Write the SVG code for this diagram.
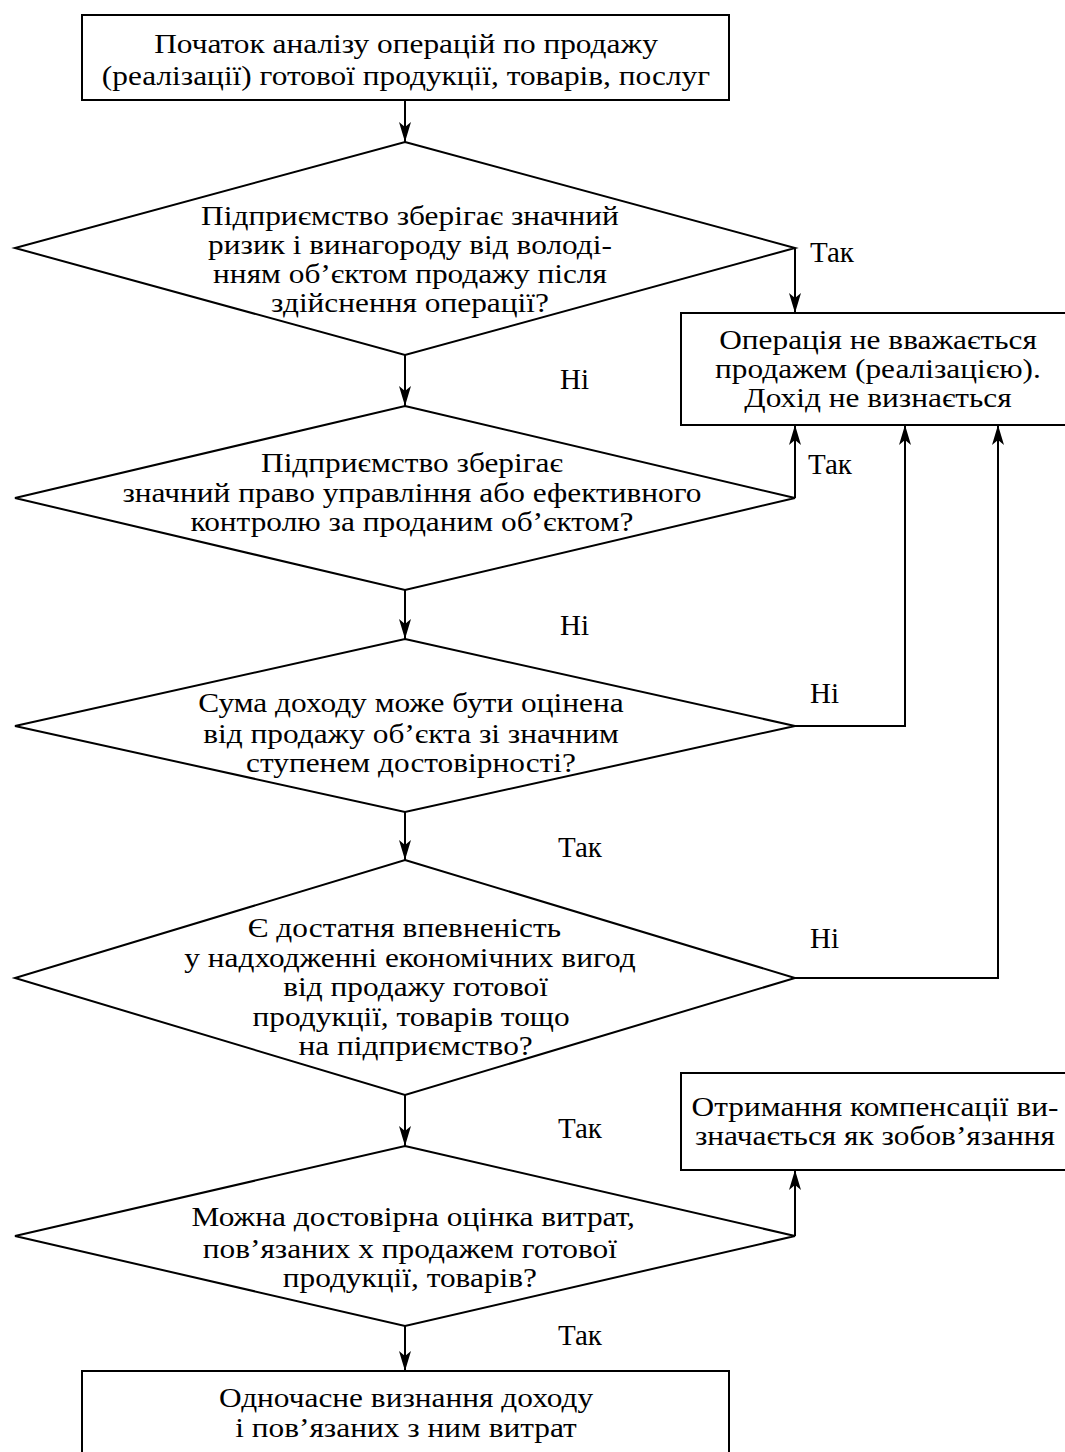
<svg xmlns="http://www.w3.org/2000/svg" width="1065" height="1452" viewBox="0 0 1065 1452">
<style>
.shape{fill:#fff;stroke:#000;stroke-width:2}
.conn{fill:none;stroke:#000;stroke-width:2}
text{font-family:"Liberation Serif","Times New Roman",serif;font-size:28px;fill:#000}
.lbl{font-size:29px}
.c{text-anchor:middle}
</style>
<defs>
<marker id="ah" markerUnits="userSpaceOnUse" viewBox="0 0 20 12" refX="20" refY="6" markerWidth="20" markerHeight="12" orient="auto">
<path d="M0,0 L20,6 L0,12 L5,6 Z" fill="#000"/>
</marker>
</defs>
<rect width="1065" height="1452" fill="#fff"/>

<g id="connectors">
<path class="conn" d="M405,100 V142" marker-end="url(#ah)"/>
<path class="conn" d="M795,248 V313" marker-end="url(#ah)"/>
<path class="conn" d="M405,355 V406" marker-end="url(#ah)"/>
<path class="conn" d="M795,498 V425" marker-end="url(#ah)"/>
<path class="conn" d="M405,590 V639" marker-end="url(#ah)"/>
<path class="conn" d="M795,726 H905 V425" marker-end="url(#ah)"/>
<path class="conn" d="M405,812 V860" marker-end="url(#ah)"/>
<path class="conn" d="M795,978 H998 V425" marker-end="url(#ah)"/>
<path class="conn" d="M405,1095 V1146" marker-end="url(#ah)"/>
<path class="conn" d="M795,1236 V1170" marker-end="url(#ah)"/>
<path class="conn" d="M405,1326 V1371" marker-end="url(#ah)"/>
<text class="lbl" x="810" y="262">Так</text>
<text class="lbl" x="560" y="389">Ні</text>
<text class="lbl" x="808" y="474">Так</text>
<text class="lbl" x="560" y="635">Ні</text>
<text class="lbl" x="810" y="703">Ні</text>
<text class="lbl" x="558" y="857">Так</text>
<text class="lbl" x="810" y="948">Ні</text>
<text class="lbl" x="558" y="1138">Так</text>
<text class="lbl" x="558" y="1345">Так</text>
</g>

<g id="start">
<rect class="shape" x="82" y="15" width="647" height="85"/>
<g transform="matrix(1.12 0 0 1 -48.72 0)">
<text class="c" x="406" y="53">Початок аналізу операцій по продажу</text>
<text class="c" x="406" y="85">(реалізації) готової продукції, товарів, послуг</text>
</g>
</g>

<g id="d1">
<polygon class="shape" points="405,142 795,248 405,355 15,248"/>
<g transform="matrix(1.12 0 0 1 -49.2 0)">
<text class="c" x="410" y="225">Підприємство зберігає значний</text>
<text class="c" x="410" y="254">ризик і винагороду від володі-</text>
<text class="c" x="410" y="283">нням об’єктом продажу після</text>
<text class="c" x="410" y="312">здійснення операції?</text>
</g>
</g>

<g id="notsale">
<rect class="shape" x="681" y="313" width="400" height="112"/>
<g transform="matrix(1.12 0 0 1 -105.36 0)">
<text class="c" x="878" y="349">Операція не вважається</text>
<text class="c" x="878" y="378">продажем (реалізацією).</text>
<text class="c" x="878" y="407">Дохід не визнається</text>
</g>
</g>

<g id="d2">
<polygon class="shape" points="405,406 795,498 405,590 15,498"/>
<g transform="matrix(1.12 0 0 1 -49.44 0)">
<text class="c" x="412" y="472">Підприємство зберігає</text>
<text class="c" x="412" y="502">значний право управління або ефективного</text>
<text class="c" x="412" y="531">контролю за проданим об’єктом?</text>
</g>
</g>

<g id="d3">
<polygon class="shape" points="405,639 795,726 405,812 15,726"/>
<g transform="matrix(1.12 0 0 1 -49.32 0)">
<text class="c" x="411" y="712">Сума доходу може бути оцінена</text>
<text class="c" x="411" y="743">від продажу об’єкта зі значним</text>
<text class="c" x="411" y="772">ступенем достовірності?</text>
</g>
</g>

<g id="d4">
<polygon class="shape" points="405,860 795,978 405,1095 15,978"/>
<g transform="matrix(1.12 0 0 1 -49.2 0)">
<text class="c" x="405" y="937">Є достатня впевненість</text>
<text class="c" x="410" y="967">у надходженні економічних вигод</text>
<text class="c" x="415" y="996">від продажу готової</text>
<text class="c" x="411" y="1026">продукції, товарів тощо</text>
<text class="c" x="415" y="1055">на підприємство?</text>
</g>
</g>

<g id="liability">
<rect class="shape" x="681" y="1073" width="400" height="97"/>
<g transform="matrix(1.12 0 0 1 -105 0)">
<text class="c" x="875" y="1116">Отримання компенсації ви-</text>
<text class="c" x="875" y="1145">значається як зобов’язання</text>
</g>
</g>

<g id="d5">
<polygon class="shape" points="405,1146 795,1236 405,1326 15,1236"/>
<g transform="matrix(1.12 0 0 1 -49.32 0)">
<text class="c" x="413" y="1226">Можна достовірна оцінка витрат,</text>
<text class="c" x="410" y="1258">пов’язаних х продажем готової</text>
<text class="c" x="410" y="1287">продукції, товарів?</text>
</g>
</g>

<g id="end">
<rect class="shape" x="82" y="1371" width="647" height="100"/>
<g transform="matrix(1.12 0 0 1 -48.72 0)">
<text class="c" x="406" y="1407">Одночасне визнання доходу</text>
<text class="c" x="406" y="1437">і пов’язаних з ним витрат</text>
</g>
</g>
</svg>
